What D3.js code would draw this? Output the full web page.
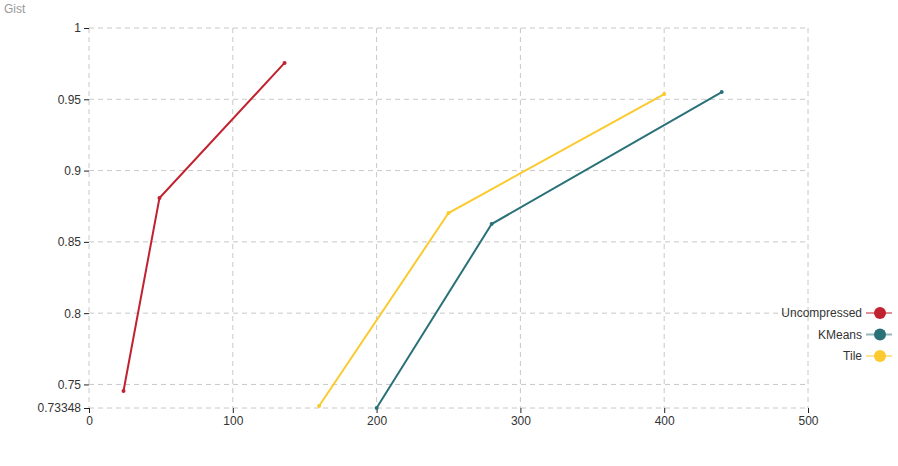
<!DOCTYPE html>
<html>
<head>
<meta charset="utf-8">
<script src="https://cdn.jsdelivr.net/npm/d3@7"></script>
<style>
  body { margin: 0; background: #fff; font-family: "Helvetica Neue", Helvetica, Arial, "Liberation Sans", sans-serif; }
  .grid line { stroke: #c8c8c8; stroke-dasharray: 5,4; }
  .axis text { font-size: 12px; fill: #333; }
  .axis line { stroke: #222; }
</style>
</head>
<body>
<svg id="chart" width="898" height="466"></svg>
<script>
const title = "Gist";
const seriesNames = ["Uncompressed", "KMeans", "Tile"];
const seriesColors = ["#c0232f", "#2a7178", "#fbca2f"];
const uncompressed = [[24, 0.7454], [49, 0.8808], [136, 0.9755]];
const kmeans = [[200, 0.73348], [280, 0.8625], [440, 0.9551]];
const tile = [[160, 0.7349], [250, 0.8702], [400, 0.9537]];
const xTicks = [0, 100, 200, 300, 400, 500];
const yTicks = [0.75, 0.8, 0.85, 0.9, 0.95, 1];

const allSeries = [uncompressed, kmeans, tile];
const svg = d3.select("#chart");
const margin = { left: 89, top: 28, right: 90, bottom: 58 };
const width = 898 - margin.left - margin.right;
const height = 466 - margin.top - margin.bottom;

const yMin = d3.min(allSeries.flat(), d => d[1]);
const x = d3.scaleLinear().domain([0, 500]).range([0, width]);
const y = d3.scaleLinear().domain([yMin, 1]).range([height, 0]);

svg.append("text").attr("x", 4).attr("y", 13)
  .attr("font-size", 12).attr("fill", "#999").text(title);

const g = svg.append("g").attr("transform", `translate(${margin.left},${margin.top})`);

// grid
g.append("g").attr("class", "grid")
  .selectAll("line").data(yTicks.concat([yMin])).join("line")
  .attr("x1", 0).attr("x2", width).attr("y1", d => y(d)).attr("y2", d => y(d));
g.append("g").attr("class", "grid")
  .selectAll("line").data(xTicks).join("line")
  .attr("y1", 0).attr("y2", height).attr("x1", d => x(d)).attr("x2", d => x(d));

// axes
const xAxis = g.append("g").attr("class", "axis").attr("transform", `translate(0,${height})`)
  .call(d3.axisBottom(x).tickValues(xTicks).tickSizeOuter(0).tickSize(5));
xAxis.select(".domain").remove();
const yAxis = g.append("g").attr("class", "axis")
  .call(d3.axisLeft(y).tickValues(yTicks.concat([yMin]))
    .tickFormat(d => d === yMin ? String(yMin) : d3.format("")(d))
    .tickSizeOuter(0).tickSize(5));
yAxis.select(".domain").remove();
g.selectAll(".axis text").attr("font-family", null).attr("font-size", null);

// lines
const line = d3.line().x(d => x(d[0])).y(d => y(d[1]));
allSeries.forEach((s, i) => {
  g.append("path").datum(s).attr("d", line)
    .attr("fill", "none").attr("stroke", seriesColors[i]).attr("stroke-width", 2);
  g.selectAll(null).data(s).join("circle")
    .attr("cx", d => x(d[0])).attr("cy", d => y(d[1])).attr("r", 2)
    .attr("fill", seriesColors[i]);
});

// legend
const legend = svg.append("g").attr("transform", "translate(880,313)");
seriesNames.forEach((name, i) => {
  const row = legend.append("g").attr("transform", `translate(0,${i * 21.5})`);
  row.append("line").attr("x1", -14).attr("x2", 12).attr("y1", 0).attr("y2", 0)
    .attr("stroke", seriesColors[i]).attr("stroke-width", 2).attr("opacity", 0.5);
  row.append("circle").attr("r", 6).attr("fill", seriesColors[i]);
  row.append("text").attr("x", -18).attr("dy", "0.35em").attr("text-anchor", "end")
    .attr("font-size", 12).attr("fill", "#333").text(name);
});
</script>
</body>
</html>
